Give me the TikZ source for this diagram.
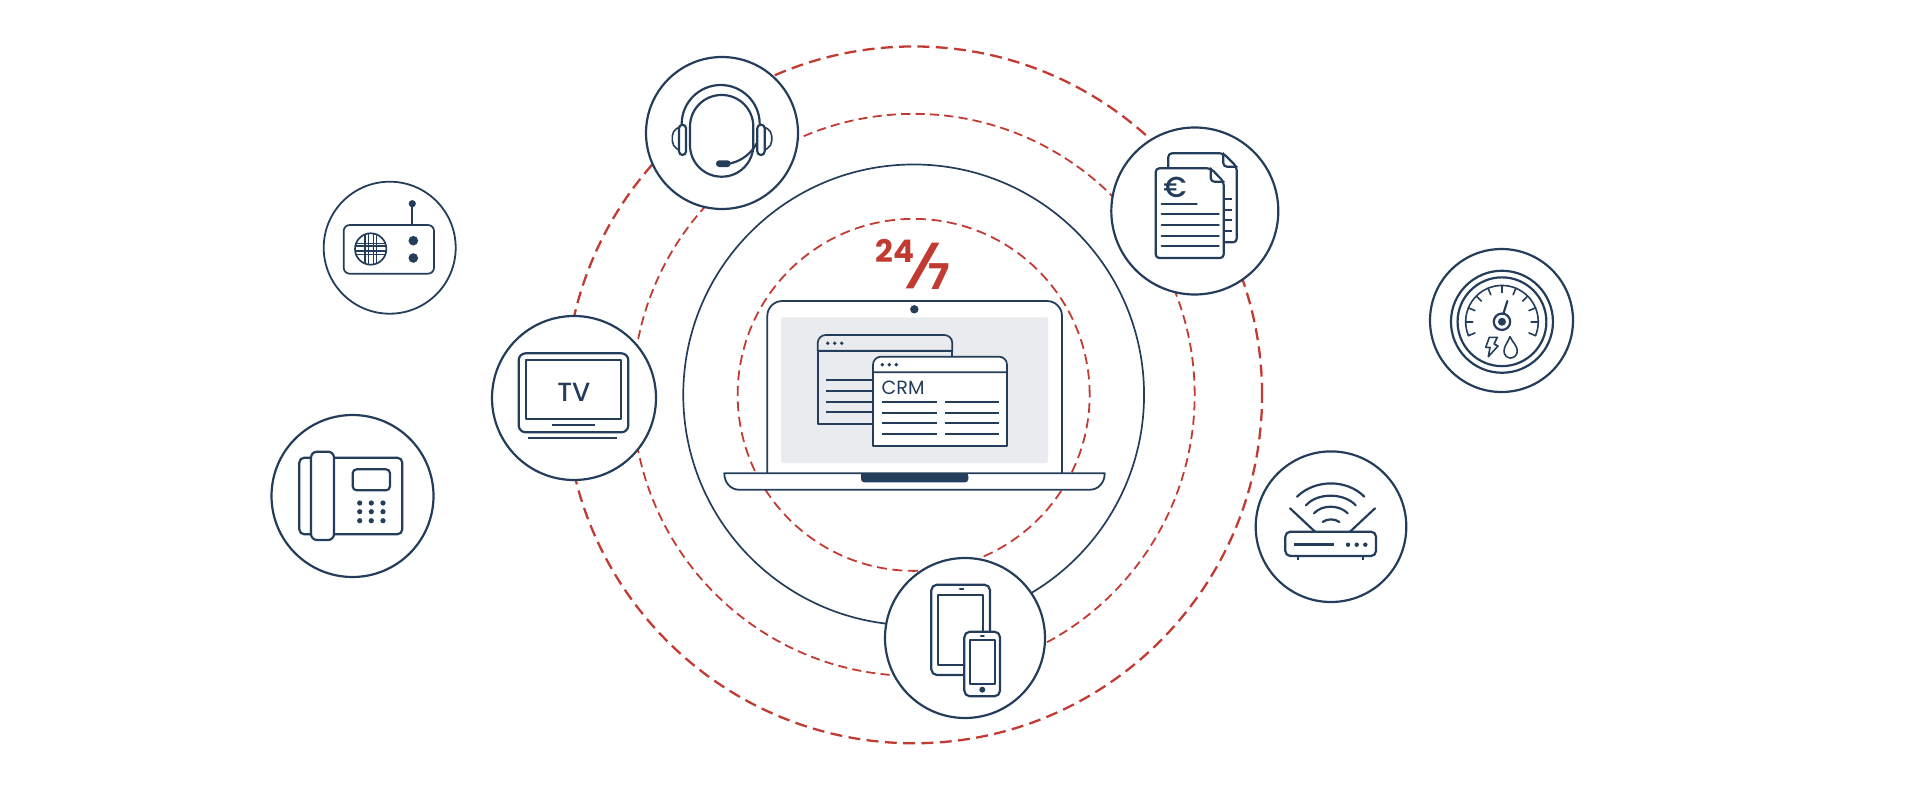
\documentclass[tikz,border=0pt]{standalone}
\usepackage{fontspec}
\setmainfont{Poppins}
\newfontfamily\medf{Poppins Medium}
\newfontfamily\regf{Poppins}
\newfontfamily\boldf{Poppins Bold}
\definecolor{navy}{HTML}{233D5A}
\definecolor{redd}{HTML}{C23B32}
\definecolor{scr}{HTML}{E9EBEE}
\tikzset{
  ring/.style={circle,draw=navy,fill=white,line width=1.1pt,inner sep=0pt,transform shape},
  ico/.style={draw=navy,line width=1.1pt,line join=round,line cap=round},
  lbl/.style={anchor=base west,inner sep=0pt,text=navy},
  redlbl/.style={anchor=base west,inner sep=0pt,text=redd},
}
\begin{document}
\begin{tikzpicture}[x=0.5pt,y=-0.5pt,scale=1.00375]
\useasboundingbox (0,0) rectangle (1920,800);
% rings
\coordinate (o) at (913.5,394.8);
\draw[redd,line width=1.15pt,dash pattern=on 6pt off 3.2pt] (o) circle (174.2pt);
\draw[redd,line width=.9pt,dash pattern=on 4.6pt off 2.6pt] (o) circle (140.5pt);
\draw[navy,line width=.85pt] (o) circle (115.2pt);
\draw[redd,line width=.9pt,dash pattern=on 5pt off 2.8pt] (o) circle (88pt);
% laptop
\draw[ico,line width=.9pt,fill=white] (767.3,473.3) -- (767.3,316) arc[start angle=180,end angle=90,radius=7.5pt] -- (1047,301) arc[start angle=90,end angle=0,radius=7.5pt] -- (1062,473.3);
\fill[scr,rounded corners=.8pt] (781,317.3) rectangle (1048,463);
\fill[navy] (914.3,309.3) circle (2.1pt);
\draw[ico,line width=.9pt,fill=white] (724.3,473.3) -- (1104.7,473.3) .. controls (1104.7,483) and (1098,489.7) .. (1090,489.7) -- (739,489.7) .. controls (731,489.7) and (724.3,483) .. (724.3,473.3) -- cycle;
\fill[navy,rounded corners=1.6pt] (861,473) -- (968.3,473) -- (968.3,482.3) -- (861,482.3) -- cycle;
\fill[navy] (861,473) rectangle (968.3,477);
% back window
\draw[ico,line width=.85pt,fill=scr] (817.7,350.7) -- (952.3,350.7) -- (952.3,424.3) -- (817.7,424.3) -- cycle;
\draw[ico,line width=.85pt,fill=scr] (817.7,350.7) -- (817.7,343) arc[start angle=180,end angle=90,radius=4pt] -- (944.3,335) arc[start angle=90,end angle=0,radius=4pt] -- (952.3,350.7) -- cycle;
\foreach \x in {827.7,834.7,841.7} \fill[navy] (\x,343.3) circle (.95pt);
\foreach \y in {380.3,391,401.7,412} \draw[ico,line width=.85pt,line cap=butt] (826.3,\y) -- (875,\y);
% front window
\draw[ico,line width=.85pt,fill=white] (873,372.3) -- (1007,372.3) -- (1007,446) -- (873,446) -- cycle;
\draw[ico,line width=.85pt,fill=white] (873,372.3) -- (873,364.7) arc[start angle=180,end angle=90,radius=4pt] -- (999,356.7) arc[start angle=90,end angle=0,radius=4pt] -- (1007,372.3) -- cycle;
\foreach \x in {882.3,889.3,896.3} \fill[navy] (\x,364.7) circle (.95pt);
\node[lbl,font=\regf\fontsize{9.6pt}{10pt}\selectfont] (crm) at (881.2,394) {CRM};
\foreach \y in {402.3,412.7,423,434} \draw[ico,line width=.85pt,line cap=butt] (881.7,\y) -- (936.7,\y) (945,\y) -- (999,\y);
% 24/7
\node[redlbl,font=\boldf\fontsize{15.6pt}{16pt}\selectfont] (tf) at (875,262.7) {24};
\node[redlbl,font=\boldf\fontsize{17.8pt}{18pt}\selectfont,xscale=1.12] (sv) at (928,289.3) {7};
\fill[redd] (931.7,242.7) -- (939.3,242.7) -- (913.3,288.3) -- (905.7,288.3) -- cycle;
% headset
\node[ring,minimum size=76pt] (headset) at (722,133) {};
\draw[ico] (681.7,124) arc[start angle=180,end angle=0,radius=19.5pt];
\draw[ico,rounded corners=15.8pt] (690,95) rectangle (753.3,176.7);
\draw[ico,line width=.8pt,rounded corners=2.5pt] (679,127.3) -- (672.3,131) -- (672.3,146) -- (679,150);
\draw[ico,line width=.8pt,rounded corners=2.5pt] (764.7,127.3) -- (771.7,131) -- (771.7,146) -- (764.7,150);
\draw[ico,fill=white,rounded corners=1.8pt] (679,124.7) rectangle (686,155);
\draw[ico,fill=white,rounded corners=1.8pt] (757.3,124.7) rectangle (764.7,155);
\draw[ico] (730.7,163.3) .. controls (741,161) and (751,154) .. (756.7,143.3);
\fill[navy,rounded corners=1.6pt] (716,160.3) rectangle (730.7,167);
% documents
\node[ring,minimum size=83.5pt] (docs) at (1194.8,211) {};
\draw[ico,rounded corners=1.8pt] (1168.3,168.3) -- (1168.3,153.3) -- (1223.3,153.3) -- (1236.7,166.7) -- (1236.7,242.3) -- (1224,242.3);
\draw[ico,rounded corners=1.8pt] (1223.3,153.3) -- (1223.3,166.7) -- (1236.7,166.7);
\draw[ico,fill=white,rounded corners=1.8pt] (1155.7,168.3) -- (1210.7,168.3) -- (1223.7,181.7) -- (1223.7,258) -- (1155.7,258) -- cycle;
\draw[ico,rounded corners=1.8pt] (1210.7,168.3) -- (1210.7,181.7) -- (1223.7,181.7);
\node[lbl,font=\medf\fontsize{14.5pt}{15pt}\selectfont] (euro) at (1163,197.3) {€};
\draw[ico] (1161.7,204) -- (1196.7,204);
\foreach \y in {214.3,225,235.7,246.3} \draw[ico] (1161.7,\y) -- (1218.7,\y);
\foreach \y in {199,209.7,220.3,231} \draw[ico,line cap=butt] (1223.7,\y) -- (1231.7,\y);
% gauge
\node[ring,minimum size=71.5pt] (gauge) at (1501.5,320.5) {};
\coordinate (c) at (1501.7,321.7);
\draw[ico] (c) circle (25.5pt);
\draw[ico] (c) circle (22.2pt);
\draw[ico,line width=.8pt] ([shift={(202.5:18.15pt)}]c) arc[start angle=202.5,end angle=-22.5,radius=18.15pt];
\foreach \a in {-22.5,0,22.5,...,202.5} \draw[ico,line width=.8pt] ([shift={(\a:18.15pt)}]c) -- ([shift={(\a:14.6pt)}]c);
\draw[ico] (c) circle (4.1pt);
\fill[navy] (c) circle (2pt);
\draw[ico] (1503.3,314) -- (1507.3,301);
\draw[ico,line width=.8pt] (1489.3,337.3) -- (1497.3,337.3) -- (1494,344) -- (1498,346) -- (1488.3,356.7) -- (1490,347.3) -- (1485.7,347.3) -- cycle;
\draw[ico,line width=.8pt] (1510,336.7) .. controls (1513,343) and (1517.3,346) .. (1517.3,351) .. controls (1517.3,355) and (1514,358) .. (1510.5,358) .. controls (1507,358) and (1504,355) .. (1504,351) .. controls (1504,346) and (1507.5,343) .. (1510,336.7) -- cycle;
% router
\node[ring,minimum size=75.3pt] (router) at (1331,526.7) {};
\draw[ico,rounded corners=2.5pt] (1285.3,531.7) rectangle (1376,556);
\draw[ico,line width=1.3pt,line cap=butt] (1294,544.7) -- (1334.3,544.7);
\foreach \x in {1348,1356.7,1365.3} \fill[navy] (\x,544.7) circle (1.1pt);
\draw[ico,line cap=butt] (1298,556) -- (1298,559.5) (1362.7,556) -- (1362.7,559.5);
\draw[ico] (1315,531.7) -- (1290,508.3) (1350,531.7) -- (1375,508.3);
\draw[ico] (1297,496.7) .. controls (1315,479) and (1347,479) .. (1364.3,496.7);
\draw[ico] (1306,505.3) .. controls (1317,492.5) and (1344,492.5) .. (1355.7,505.3);
\draw[ico] (1314,513.3) .. controls (1322,504.5) and (1339,504.5) .. (1347.7,513.3);
\draw[ico] (1322.7,522) .. controls (1327,518.5) and (1335,518.5) .. (1339.3,522);
% devices
\node[ring,minimum size=80pt] (devices) at (965,638) {};
\draw[ico,rounded corners=2.8pt] (931.3,584.7) rectangle (990,675);
\draw[ico] (938.3,595) rectangle (983.3,665);
\draw[ico] (960,589) -- (963.3,589);
\draw[ico,fill=white,rounded corners=2.8pt] (964.3,631.7) rectangle (1000,696.3);
\draw[ico] (970,640) rectangle (995,684);
\draw[ico] (981,636.3) -- (983.7,636.3);
\fill[navy] (982.3,689.7) circle (1.5pt);
% desk phone
\node[ring,minimum size=81pt] (phone) at (352.5,496) {};
\draw[ico,rounded corners=2.5pt] (299.3,457.7) rectangle (402.3,534.3);
\draw[ico,fill=white,rounded corners=3pt] (311,451.7) rectangle (334,540);
\draw[ico,rounded corners=2pt] (352.7,469.3) rectangle (390,490.3);
\foreach \x in {359.7,371.3,383} \foreach \y in {503,511.7,520.7} \fill[navy] (\x,\y) circle (1.3pt);
% radio
\node[ring,line width=.9pt,minimum size=66pt] (radio) at (389.7,247.7) {};
\draw[ico,line width=.85pt,rounded corners=3pt] (343.7,225) rectangle (434,273.7);
\draw[ico,line width=.85pt] (412.3,225) -- (412.3,203.7);
\fill[navy] (412.3,203.7) circle (1.8pt);
\fill[navy] (413.3,240.7) circle (2.4pt);
\fill[navy] (413.3,258) circle (2.4pt);
\begin{scope}
\clip (370.7,249) circle (7.85pt);
\foreach \x in {365,368.3,373.3,376.7} \draw[navy,line width=.55pt] (\x,230) -- (\x,268);
\foreach \y in {243.3,246,251,254.3} \draw[navy,line width=.55pt] (350,\y) -- (390,\y);
\end{scope}
\draw[ico,line width=.85pt] (370.7,249) circle (7.85pt);
% tv
\node[ring,minimum size=82pt] (tv) at (574,398) {};
\draw[ico,rounded corners=3.5pt] (518.7,353.3) rectangle (628.3,432.3);
\draw[ico] (526,360.3) rectangle (621,419.3);
\node[lbl,font=\medf\fontsize{13.2pt}{14pt}\selectfont] (tvt) at (557,401.7) {TV};
\draw[ico,line cap=butt] (551.7,425) -- (595,425);
\draw[ico,line width=1.2pt,line cap=butt] (527.7,438) -- (617.3,438);
\end{tikzpicture}
\end{document}
